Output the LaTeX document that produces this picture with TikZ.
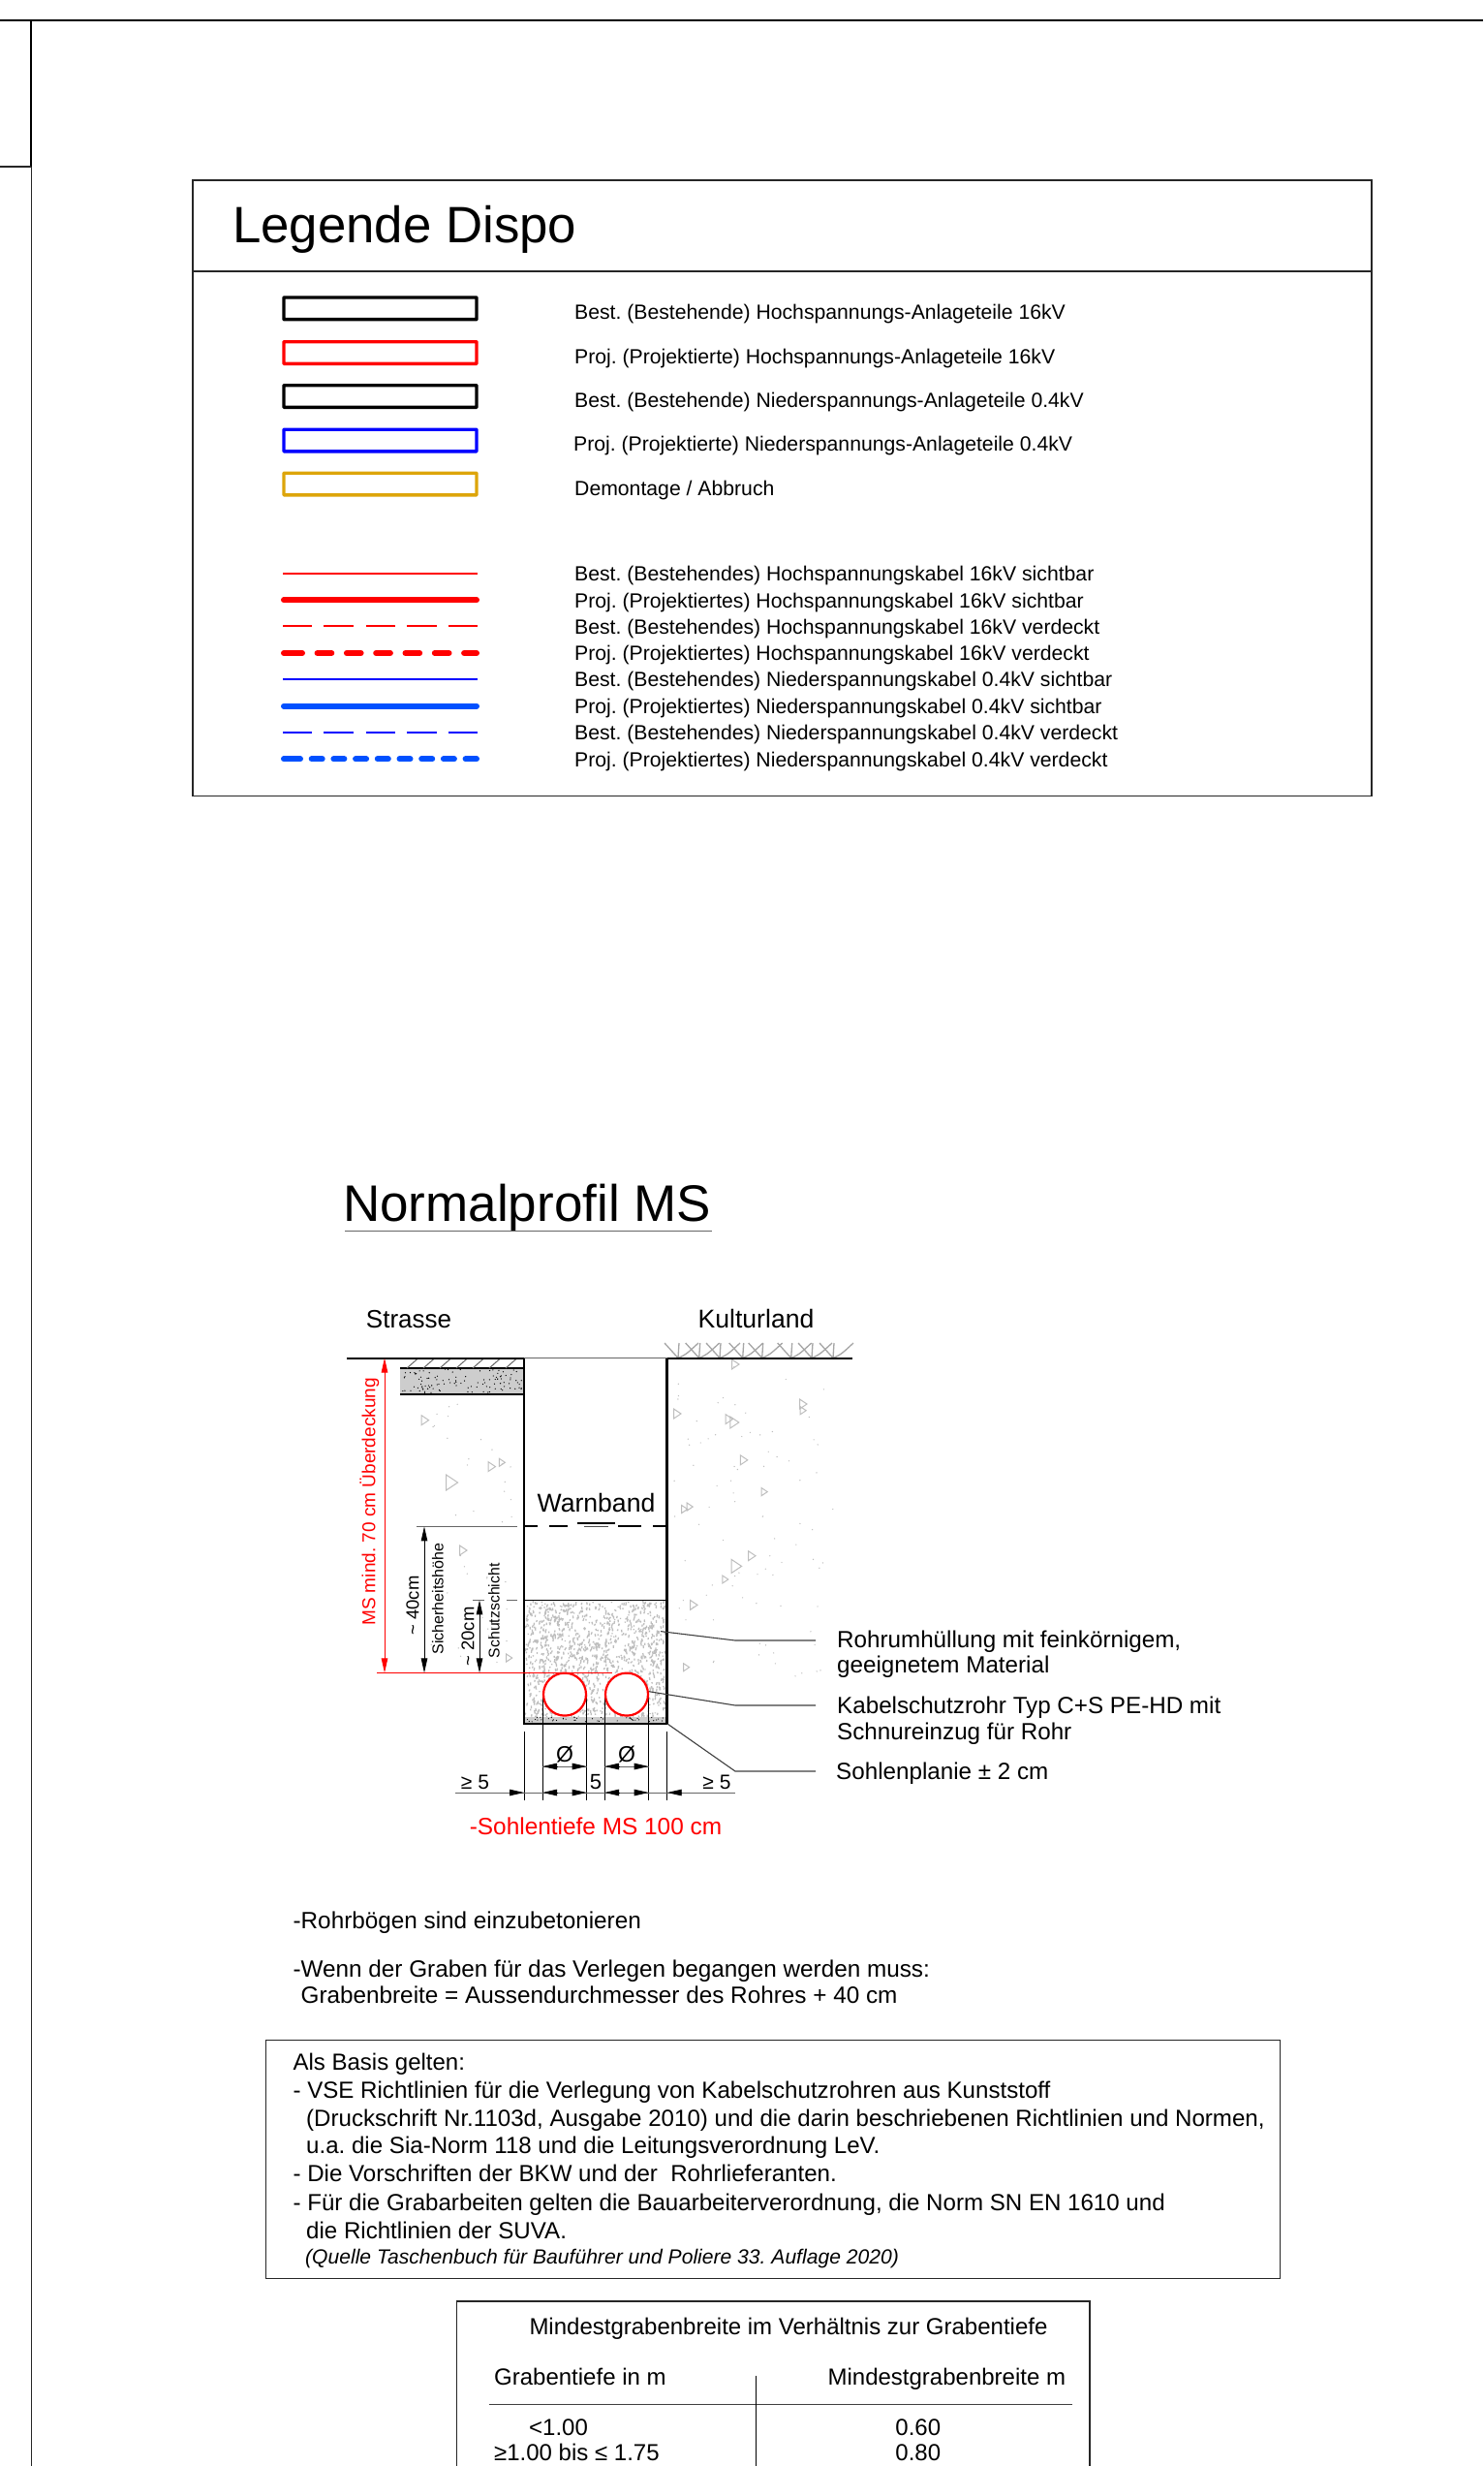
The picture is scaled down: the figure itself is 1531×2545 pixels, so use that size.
\documentclass[tikz,border=0pt]{standalone}
\usepackage{fontspec}
\setmainfont{Liberation Sans}
\usetikzlibrary{arrows.meta}
\definecolor{GoldBox}{RGB}{221,165,10}
\definecolor{BlueCable}{RGB}{0,80,255}
\definecolor{SoilGray}{RGB}{190,190,190}
\definecolor{LayerGray}{RGB}{205,205,205}
\newcommand{\fs}[1]{\fontsize{#1}{#1}\selectfont}
\frenchspacing
\tikzset{
	frameline/.style={black!85, line width=1.4pt},
	wall/.style={black, line width=2.4pt},
	leader/.style={black!75, line width=1.1pt},
	dimline/.style={black!60, line width=0.9pt},
	extline/.style={black, line width=0.9pt},
	dimtip/.style={-{Triangle[length=15pt,width=6.5pt]}, black, line width=0.9pt},
	legbox/.style={line width=3.4pt, rounded corners=0.5pt},
	txt/.style={anchor=base west, inner sep=0pt, black},
	ctxt/.style={anchor=base, inner sep=0pt, black},
}
\begin{document}
\begin{tikzpicture}[x=1pt,y=-1pt]
	\useasboundingbox (0,0) rectangle (1531,2545);
	\fill[white] (0,0) rectangle (1531,2545);

	% drawing frame
	\draw[black, line width=2pt] (0,20.7) -- (1531,20.7);
	\draw[black, line width=2pt] (32.3,20.7) -- (32.3,172);
	\draw[frameline] (32.3,172) -- (32.3,2545);
	\draw[frameline] (0,172) -- (32.3,172);

	% legend
	\draw[frameline] (199,186) rectangle (1416,821.5);
	\draw[frameline] (199,280) -- (1416,280);
	\node[txt] (legtitle) at (240,250) {\fs{52.8}Legende Dispo};

	\foreach \y/\c/\n in {318.3/black/a, 364/red/b, 409/black/c, 454.5/blue/d, 499.5/GoldBox/e}
		\draw[legbox, draw=\c] (293,\y-11.3) rectangle (492,\y+11.3);

	\node[txt] (leg1) at (593,329.2) {\fs{21.2}Best. (Bestehende) Hochspannungs-Anlageteile 16kV};
	\node[txt] (leg2) at (593,375) {\fs{21.2}Proj. (Projektierte) Hochspannungs-Anlageteile 16kV};
	\node[txt] (leg3) at (593,420.3) {\fs{21.2}Best. (Bestehende) Niederspannungs-Anlageteile 0.4kV};
	\node[txt] (leg4) at (592,465.3) {\fs{21.2}Proj. (Projektierte) Niederspannungs-Anlageteile 0.4kV};
	\node[txt] (leg5) at (593,511.3) {\fs{21.2}Demontage / Abbruch};

	\draw[red, line width=2pt] (292,591.7) -- (493,591.7);
	\draw[red, line width=6pt, line cap=round] (293,619.3) -- (492,619.3);
	\draw[red, line width=2pt, dash pattern=on 30pt off 12.3pt on 31pt off 12.3pt] (292,646.3) -- (493,646.3);
	\draw[red, line width=6pt, line cap=round, dash pattern=on 19pt off 15.6pt on 14.7pt off 15.6pt on 14.7pt off 15.6pt on 14.7pt off 15.6pt on 14.7pt off 15.6pt on 14.7pt off 15.6pt on 19pt off 50pt] (293,674) -- (492,674);
	\draw[blue, line width=2pt] (292,701.3) -- (493,701.3);
	\draw[BlueCable, line width=6pt, line cap=round] (293,728.7) -- (492,728.7);
	\draw[blue, line width=2pt, dash pattern=on 30pt off 12.3pt on 31pt off 12.3pt] (292,755.7) -- (493,755.7);
	\draw[BlueCable, line width=6pt, line cap=round, dash pattern=on 17pt off 11.7pt on 11pt off 11.7pt on 11pt off 11.7pt on 11pt off 11.7pt on 11pt off 11.7pt on 11pt off 11.7pt on 11pt off 11.7pt on 11pt off 11.7pt on 17pt off 50pt] (293,783.3) -- (492,783.3);

	\node[txt] (kab1) at (593,599.6) {\fs{21.2}Best. (Bestehendes) Hochspannungskabel 16kV sichtbar};
	\node[txt] (kab2) at (593,627) {\fs{21.2}Proj. (Projektiertes) Hochspannungskabel 16kV sichtbar};
	\node[txt] (kab3) at (593,654.2) {\fs{21.2}Best. (Bestehendes) Hochspannungskabel 16kV verdeckt};
	\node[txt] (kab4) at (593,681.6) {\fs{21.2}Proj. (Projektiertes) Hochspannungskabel 16kV verdeckt};
	\node[txt] (kab5) at (593,708.8) {\fs{21.2}Best. (Bestehendes) Niederspannungskabel 0.4kV sichtbar};
	\node[txt] (kab6) at (593,736.2) {\fs{21.2}Proj. (Projektiertes) Niederspannungskabel 0.4kV sichtbar};
	\node[txt] (kab7) at (593,763.6) {\fs{21.2}Best. (Bestehendes) Niederspannungskabel 0.4kV verdeckt};
	\node[txt] (kab8) at (593,791) {\fs{21.2}Proj. (Projektiertes) Niederspannungskabel 0.4kV verdeckt};

	% profile title
	\node[txt, black] (proftitle) at (354,1260) {\fs{53}Normalprofil MS};
	\draw[black!60, line width=1.3pt] (356,1270.7) -- (735,1270.7);

	% soil, random speckle
	\pgfmathsetseed{4711}
	\fill[SoilGray] \foreach \i in {1,...,40} { ({445+85*rnd},{1445+275*rnd}) circle (0.7) };
	\fill[SoilGray] \foreach \i in {1,...,85} { ({695+165*rnd},{1410+320*rnd}) circle (0.7) };
	\foreach \x/\y/\s in {438.6/1465.7/5, 507.5/1513.6/5, 518.2/1509.3/4, 466.2/1530/8, 478/1600/5, 525.5/1711/4, 759/1408/5, 699/1459/5, 752.5/1464.6/5, 758/1468/6, 829/1449/5, 829/1455.7/4, 767.8/1506.8/5, 789/1539.6/4, 706.5/1557.5/4, 712/1555/4, 776/1605.7/5, 760/1616.4/7, 748.6/1630/4, 716/1656.4/5, 708.4/1720.7/4}
		\draw[SoilGray, line width=1pt] (\x-\s*0.7,\y-\s) -- (\x+\s*0.8,\y) -- (\x-\s*0.7,\y+\s) -- cycle;

	% road layers
	\fill[LayerGray] (413,1412) rectangle (541,1439);
	\fill[black] \foreach \i in {1,...,110} { ({415+125*rnd},{1413+25*rnd}) circle (0.65) };
	\draw[black, line width=1.6pt] (413,1412) -- (541,1412);
	\draw[black, line width=1.6pt] (413,1439) -- (541,1439);
	\foreach \x in {420,437,...,522}
		\draw[black!60, line width=1pt] (\x,1412) -- (\x+12,1401.5);

	% trench filling
	\draw[SoilGray, line width=1.3pt] \foreach \i in {1,...,1300} { ({542+145*rnd},{1652+119*rnd}) -- ++({70+50*rnd}:{1+2.2*rnd}) };
	\fill[LayerGray] (541,1771.5) rectangle (688.5,1779);
	\fill[black] \foreach \i in {1,...,45} { ({543+144*rnd},{1772+5*rnd}) circle (0.6) };

	% grass
	\foreach \x in {700,721.7,743,766.7,786.7,816.7,838,860}
		\draw[black!35, line width=1.3pt] (\x-14,1386) -- (\x,1401.5) -- (\x+1,1386) (\x,1401.5) .. controls (\x+8,1398) .. (\x+21,1386);

	% ground and trench
	\coordinate (grl) at (358,1401.5);
	\coordinate (gra) at (541,1401.5);
	\coordinate (grb) at (688.5,1401.5);
	\coordinate (grr) at (879.5,1401.5);
	\coordinate (boa) at (541,1779);
	\coordinate (bob) at (688.5,1779);
	\draw[black, line width=2pt] (grl) -- (gra);
	\draw[black!60, line width=1pt] (gra) -- (grb);
	\draw[black, line width=2pt] (grb) -- (grr);
	\draw[wall] (gra) -- (boa) -- (bob) -- (grb);
	\draw[black, line width=1.2pt] (541,1651.4) -- (688.5,1651.4);

	% warning tape
	\draw[black, line width=2pt] (541,1575.4) -- (555,1575.4) (567,1575.4) -- (586,1575.4) (638,1575.4) -- (662,1575.4) (674,1575.4) -- (688.5,1575.4);
	\draw[black, line width=2pt] (595.5,1571.5) -- (635,1571.5);
	\draw[black!70, line width=1.6pt] (603,1575.4) -- (628,1575.4);
	\node[ctxt] (warn) at (615.5,1560) {\fs{26.6}Warnband};

	% cable pipes
	\coordinate (sa) at (560,1748.6);
	\coordinate (sb) at (605.7,1748.6);
	\coordinate (sc) at (624,1748.6);
	\coordinate (sd) at (669.7,1748.6);
	\foreach \n in {sa,sb,sc,sd}
		\draw[extline] (\n) -- (\n |- 0,1858);
	\draw[extline] (541,1787) -- (541,1858);
	\draw[extline] (688.7,1787) -- (688.7,1858);
	\node[circle, draw=red, fill=white, line width=2.2pt, minimum size=44pt, inner sep=0pt] (rohra) at (583,1748.6) {};
	\node[circle, draw=red, fill=white, line width=2.2pt, minimum size=44pt, inner sep=0pt] (rohrb) at (647,1748.6) {};

	% heights
	\coordinate (mstop) at (397,1401.5);
	\coordinate (msbot) at (397,1726.4);
	\draw[red, line width=1pt] (389,1726.4) -- (632,1726.4);
	\draw[red, line width=1pt, {Triangle[length=15pt,width=6.5pt]}-{Triangle[length=15pt,width=6.5pt]}] (mstop) -- (msbot);
	\node[inner sep=0pt, rotate=90, text=red] (msmind) at (381.5,1550) {\fs{19}MS mind. 70 cm Überdeckung};

	\coordinate (sitop) at (438,1575.4);
	\coordinate (sibot) at (438,1726.4);
	\draw[dimline] (430,1575.4) -- (533.5,1575.4);
	\draw[extline, {Triangle[length=15pt,width=6.5pt]}-{Triangle[length=15pt,width=6.5pt]}] (sitop) -- (sibot);
	\node[inner sep=0pt, rotate=90] (sicm) at (426,1657) {\fs{18.5}\textasciitilde{} 40cm};
	\node[inner sep=0pt, rotate=90] (sitxt) at (452,1650) {\fs{16}Sicherheitshöhe};

	\coordinate (sctop) at (495,1651.4);
	\coordinate (scbot) at (495,1726.4);
	\draw[dimline] (488,1651.4) -- (500,1651.4) (523,1651.4) -- (533.5,1651.4);
	\draw[extline, {Triangle[length=15pt,width=6.5pt]}-{Triangle[length=15pt,width=6.5pt]}] (sctop) -- (scbot);
	\node[inner sep=0pt, rotate=90] (sccm) at (483,1689) {\fs{18.5}\textasciitilde{} 20cm};
	\node[inner sep=0pt, rotate=90] (sctxt) at (510,1662.3) {\fs{15.8}Schutzschicht};

	% widths
	\coordinate (wl) at (470,1850);
	\coordinate (wr) at (759,1850);
	\draw[dimline] (wl) -- (wr);
	\draw[dimline] (560,1823) -- (605.7,1823) (624,1823) -- (669.7,1823);
	\foreach \xa/\xb in {560/575, 605.7/590.7, 624/639, 669.7/654.7} {
		\draw[dimtip] (\xb,1823) -- (\xa,1823);
		\draw[dimtip] (\xb,1850) -- (\xa,1850);
	}
	\draw[dimtip] (526,1850) -- (541,1850);
	\draw[dimtip] (703.7,1850) -- (688.7,1850);
	\node[ctxt] (oa) at (583,1818) {\fs{23}Ø};
	\node[ctxt] (ob) at (647,1818) {\fs{23}Ø};
	\node[ctxt] (fuenf) at (615,1846) {\fs{22}5};
	\node[ctxt] (gea) at (490.5,1846) {\fs{21}≥ 5};
	\node[ctxt] (geb) at (740,1846) {\fs{21}≥ 5};
	\node[ctxt, text=red] (sohle) at (615,1893) {\fs{24.4}-Sohlentiefe MS 100 cm};

	\node[ctxt, black] (strasse) at (422,1370) {\fs{26}Strasse};
	\node[ctxt, black] (kultur) at (780.5,1370) {\fs{26.6}Kulturland};

	% leaders
	\coordinate (laa) at (682,1683.6);
	\coordinate (lab) at (759,1693);
	\coordinate (lac) at (842,1693);
	\coordinate (lba) at (670,1745.7);
	\coordinate (lbb) at (759,1760);
	\coordinate (lbc) at (842,1760);
	\coordinate (lca) at (689,1779);
	\coordinate (lcb) at (759,1828);
	\coordinate (lcc) at (842,1828);
	\draw[leader] (laa) -- (lab) -- (lac);
	\draw[leader] (lba) -- (lbb) -- (lbc);
	\draw[leader] (lca) -- (lcb) -- (lcc);
	\node[txt] (rohrum) at (864,1700.7) {\fs{24.2}Rohrumhüllung mit feinkörnigem,};
	\node[txt] (rohrma) at (864,1726) {\fs{24.2}geeignetem Material};
	\node[txt] (kabel) at (864,1768) {\fs{24.2}Kabelschutzrohr Typ C+S PE-HD mit};
	\node[txt] (schnur) at (864,1795) {\fs{24.2}Schnureinzug für Rohr};
	\node[txt] (planie) at (863,1836) {\fs{24.2}Sohlenplanie ± 2 cm};

	% notes
	\node[txt] (nota) at (302.4,1990.7) {\fs{24.3}-Rohrbögen sind einzubetonieren};
	\node[txt] (notb) at (302.4,2040.7) {\fs{24.3}-Wenn der Graben für das Verlegen begangen werden muss:};
	\node[txt] (notc) at (310.4,2067.7) {\fs{24.3}Grabenbreite = Aussendurchmesser des Rohres + 40 cm};

	% basis box
	\draw[frameline] (274.3,2105.7) rectangle (1321.6,2351.7);
	\node[txt] (basa) at (302.4,2136) {\fs{24}Als Basis gelten:};
	\node[txt] (basb) at (302.4,2165) {\fs{24.1}- VSE Richtlinien für die Verlegung von Kabelschutzrohren aus Kunststoff};
	\node[txt] (basc) at (316,2194) {\fs{24.1}(Druckschrift Nr.1103d, Ausgabe 2010) und die darin beschriebenen Richtlinien und Normen,};
	\node[txt] (basd) at (316,2222.7) {\fs{24.1}u.a. die Sia-Norm 118 und die Leitungsverordnung LeV.};
	\node[txt] (base) at (302.4,2251.7) {\fs{24.1}- Die Vorschriften der BKW und der\ \ Rohrlieferanten.};
	\node[txt] (basf) at (302.4,2281) {\fs{24.1}- Für die Grabarbeiten gelten die Bauarbeiterverordnung, die Norm SN EN 1610 und};
	\node[txt] (basg) at (316,2310) {\fs{24.1}die Richtlinien der SUVA.};
	\node[txt] (bash) at (315,2336) {\fs{21.1}\itshape (Quelle Taschenbuch für Bauführer und Poliere 33. Auflage 2020)};

	% table
	\draw[frameline] (471.4,2545) -- (471.4,2375) -- (1125,2375) -- (1125,2545);
	\draw[black!75, line width=1.4pt] (504.5,2481.7) -- (1107,2481.7);
	\draw[black, line width=1.2pt] (780.4,2451.7) -- (780.4,2545);
	\node[txt] (taba) at (546.3,2409) {\fs{24}Mindestgrabenbreite im Verhältnis zur Grabentiefe};
	\node[txt] (tabb) at (510,2461.7) {\fs{24}Grabentiefe in m};
	\node[txt] (tabc) at (854.4,2461.7) {\fs{24}Mindestgrabenbreite m};
	\node[txt] (tabd) at (546,2513.3) {\fs{24}<1.00};
	\node[txt] (tabe) at (510,2539.3) {\fs{24}≥1.00 bis ≤ 1.75};
	\node[ctxt] (tabf) at (947.8,2513.3) {\fs{24}0.60};
	\node[ctxt] (tabg) at (947.8,2539.3) {\fs{24}0.80};
\end{tikzpicture}
\end{document}
